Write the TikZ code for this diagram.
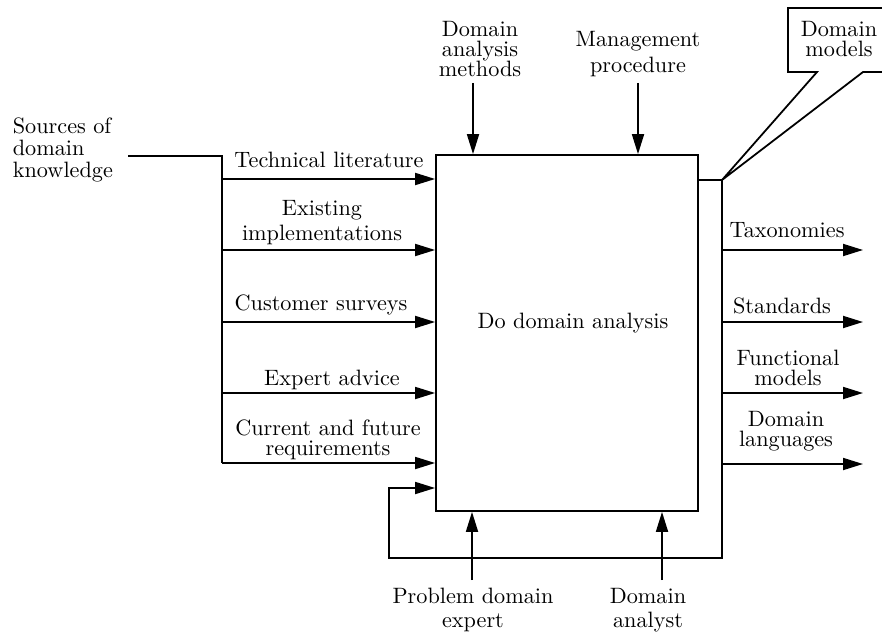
\documentclass[tikz,border=0pt]{standalone}
\usetikzlibrary{arrows.meta}
\begin{document}
\begin{tikzpicture}[x=0.45pt,y=-0.45pt,
  line width=0.8pt,
  flow/.style={-{Triangle[length=9pt,width=5.4pt]}},
  lbl/.style={inner sep=0pt, align=center, anchor=base},
  tight/.style={font=\fontsize{10}{9}\selectfont},
]
\useasboundingbox (0,0) rectangle (882,634);

% activity box
\node[draw, inner sep=0pt, minimum width=117.9pt, minimum height=160.2pt] (box) at (567,333) {};
\node[lbl] (task) at (573,328) {Do domain analysis};

% inputs: source bus feeding the box from the left
\node[inner sep=0pt, align=left, anchor=base west, font=\fontsize{10}{10}\selectfont] (src) at (12,178) {Sources of\\domain\\knowledge};
\coordinate (srcend) at (128,156);
\coordinate (bustop) at (222,156);
\coordinate (in1) at (222,179);
\coordinate (in2) at (222,250);
\coordinate (in3) at (222,322);
\coordinate (in4) at (222,393);
\coordinate (in5) at (222,463);
\draw (srcend) -- (bustop) -- (in5);
\foreach \k in {1,...,5} \draw[flow] (in\k) -- (in\k -| box.west);

\node[lbl] (l1) at (329,167) {Technical literature};
\node[lbl, font=\fontsize{10}{11.2}\selectfont] (l2) at (322,240) {Existing\\implementations};
\node[lbl] (l3) at (321,310) {Customer surveys};
\node[lbl] (l4) at (332,385) {Expert advice};
\node[lbl, tight] (l5) at (328,455) {Current and future\\requirements};

% controls from the top
\node[lbl, tight] (c1) at (480,77) {Domain\\analysis\\methods};
\node[lbl, font=\fontsize{10}{11.7}\selectfont] (c2) at (638,73) {Management\\procedure};
\coordinate (c1s) at (473,83);
\coordinate (c2s) at (638,83);
\draw[flow] (c1s) -- (c1s |- box.north);
\draw[flow] (c2s) -- (c2s |- box.north);

% mechanisms from below
\node[lbl, font=\fontsize{10}{10.8}\selectfont] (m1) at (473,627) {Problem domain\\expert};
\node[lbl, font=\fontsize{10}{10.8}\selectfont] (m2) at (648,627) {Domain\\analyst};
\coordinate (m1s) at (472,580);
\coordinate (m2s) at (662,580);
\draw[flow] (m1s) -- (m1s |- box.south);
\draw[flow] (m2s) -- (m2s |- box.south);

% output bus with feedback into the box
\coordinate (obus) at (722,180);
\coordinate (fb1) at (722,558);
\coordinate (fb2) at (389,558);
\coordinate (fb3) at (389,488);
\draw[flow] (box.east |- obus) -- (obus) -- (fb1) -- (fb2) -- (fb3) -- (fb3 -| box.west);

\foreach \k/\y in {1/250,2/322,3/393,4/464} {
  \coordinate (out\k) at (722,\y);
  \coordinate (tip\k) at (863,\y);
  \draw[flow] (out\k) -- (tip\k);
}
\node[lbl] (o1) at (787,237) {Taxonomies};
\node[lbl] (o2) at (782,313) {Standards};
\node[lbl, tight] (o3) at (788,385) {Functional\\models};
\node[lbl, tight] (o4) at (786,446) {Domain\\languages};

% callout naming the outputs
\node[lbl, tight] (dm) at (839,57) {Domain\\models};
\draw (obus) -- (817,72) -- (788,72) -- (788,8) -- (895,8) -- (895,72) -- (863,72) -- cycle;
\end{tikzpicture}
\end{document}
